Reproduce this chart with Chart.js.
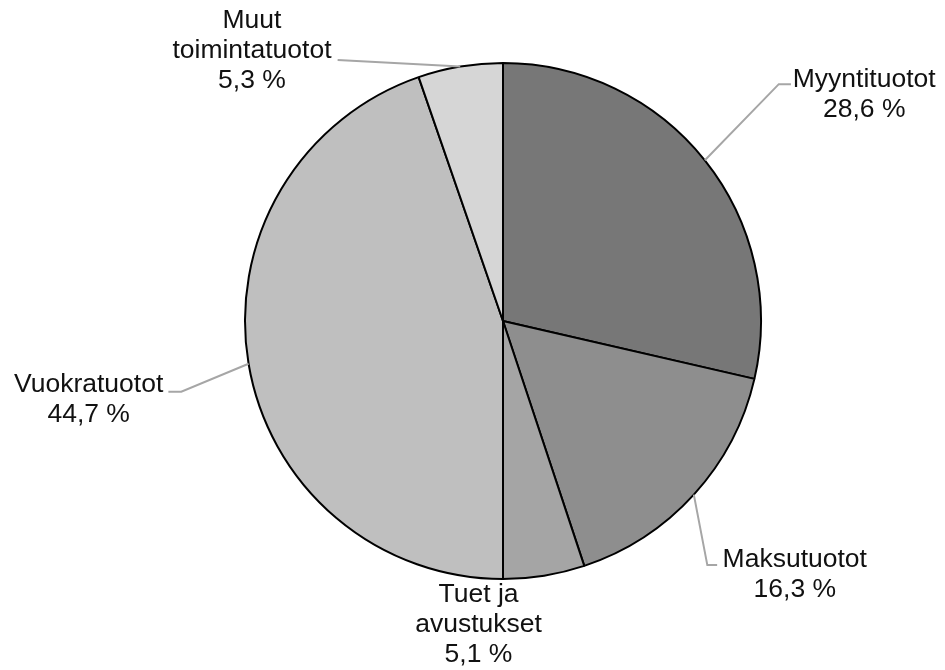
<!DOCTYPE html>
<html>
<head>
<meta charset="utf-8">
<script src="https://cdn.jsdelivr.net/npm/chart.js@4"></script>
<style>
html,body{margin:0;padding:0;background:#fff;}
#wrap{width:945px;height:670px;position:relative;}
</style>
</head>
<body>
<div id="wrap"><canvas id="c" width="945" height="670"></canvas></div>
<script>
// Data
const categories = ["Myyntituotot", "Maksutuotot", "Tuet ja avustukset", "Vuokratuotot", "Muut toimintatuotot"];
const labelLines = [["Myyntituotot"], ["Maksutuotot"], ["Tuet ja", "avustukset"], ["Vuokratuotot"], ["Muut", "toimintatuotot"]];
const values = [28.6, 16.3, 5.1, 44.7, 5.3];
const colors = ["#777777", "#8e8e8e", "#a5a5a5", "#bfbfbf", "#d6d6d6"];

// Label layout: text-block centre offsets from pie centre (in radii) and leader-line points
const labelLayout = [
  {dx: 1.400, dy: -0.886, elbow: {dx: 1.069, dy: -0.918}, from: {dx: 1.116, dy: -0.918}},
  {dx: 1.131, dy: 0.977,  elbow: {dx: 0.792, dy: 0.946}, from: {dx: 0.830, dy: 0.946}},
  {dx: -0.095, dy: 1.170, none: true},
  {dx: -1.606, dy: 0.297, elbow: {dx: -1.247, dy: 0.274}, from: {dx: -1.297, dy: 0.274}},
  {dx: -0.973, dy: -1.054, from: {dx: -0.641, dy: -1.012}}
];

function fmt(v){ return v.toFixed(1).replace('.', ',') + ' %'; }

const labelPlugin = {
  id: 'pieLabels',
  afterDatasetsDraw(chart) {
    const ctx = chart.ctx;
    const meta = chart.getDatasetMeta(0);
    ctx.save();
    meta.data.forEach((arc, i) => {
      const p = arc.getProps(['x','y','startAngle','endAngle','outerRadius'], true);
      const cx = p.x, cy = p.y, r = p.outerRadius;
      const mid = (p.startAngle + p.endAngle) / 2;
      const L = labelLayout[i];
      if (!L.none) {
        const ex = cx + Math.cos(mid) * r, ey = cy + Math.sin(mid) * r;
        ctx.beginPath();
        ctx.strokeStyle = '#a6a6a6';
        ctx.lineWidth = 2;
        ctx.moveTo(cx + L.from.dx * r, cy + L.from.dy * r);
        if (L.elbow) ctx.lineTo(cx + L.elbow.dx * r, cy + L.elbow.dy * r);
        ctx.lineTo(ex, ey);
        ctx.stroke();
      }
      const lines = labelLines[i].concat([fmt(values[i])]);
      const lh = 30;
      const tx = cx + L.dx * r, ty = cy + L.dy * r;
      ctx.fillStyle = '#111111';
      ctx.font = '26.5px "Liberation Sans", Arial, sans-serif';
      ctx.textAlign = 'center';
      ctx.textBaseline = 'alphabetic';
      const top = ty - (lines.length - 1) * lh / 2;
      lines.forEach((s, k) => ctx.fillText(s, tx, top + k * lh + 9.3));
    });
    ctx.restore();
  }
};

new Chart(document.getElementById('c'), {
  type: 'pie',
  data: {
    labels: categories,
    datasets: [{
      data: values,
      backgroundColor: colors,
      borderColor: '#000000',
      borderWidth: 2
    }]
  },
  options: {
    responsive: false,
    animation: false,
    layout: {padding: {top: 62, bottom: 90, left: 100, right: 39}},
    plugins: {legend: {display: false}, tooltip: {enabled: false}, title: {display: false}}
  },
  plugins: [labelPlugin]
});
</script>
</body>
</html>
